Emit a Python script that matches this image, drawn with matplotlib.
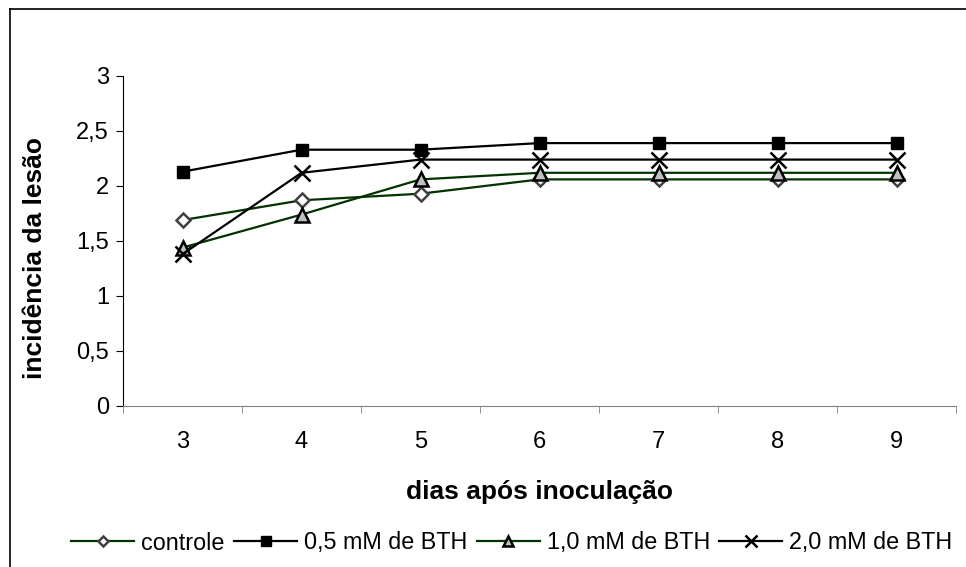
import matplotlib.pyplot as plt
from matplotlib.lines import Line2D
import numpy as np

plt.rcParams['font.family'] = ['Liberation Sans', 'DejaVu Sans']

dias = ["3", "4", "5", "6", "7", "8", "9"]
controle = [1.69, 1.87, 1.93, 2.06, 2.06, 2.06, 2.06]
bth_05 = [2.13, 2.33, 2.33, 2.39, 2.39, 2.39, 2.39]
bth_10 = [1.44, 1.74, 2.06, 2.12, 2.12, 2.12, 2.12]
bth_20 = [1.38, 2.12, 2.24, 2.24, 2.24, 2.24, 2.24]

verde = '#003300'

fig = plt.figure(figsize=(9.66, 5.67), dpi=100)
ax = fig.add_axes([123/966, 1-406/567, 833/966, 330/567])

x = np.arange(len(dias))
ax.plot(x, controle, color=verde, lw=1.6, marker='D', ms=7, mfc='white',
        mec='#404040', mew=1.8, label='controle')
ax.plot(x, bth_05, color='black', lw=1.6, marker='s', ms=9, mfc='black',
        mec='black', label='0,5 mM de BTH')
ax.plot(x, bth_10, color=verde, lw=1.6, marker='^', ms=10, mfc='#c0c0c0',
        mec='black', mew=1.8, label='1,0 mM de BTH')
ax.plot(x, bth_20, color='black', lw=1.6, marker='x', ms=11, mew=1.8,
        label='2,0 mM de BTH')

ax.set_xlim(-0.5, len(dias) - 0.5)
ax.set_ylim(0, 3)
ax.set_yticks([0, 0.5, 1, 1.5, 2, 2.5, 3])
ax.set_yticklabels(['0', '0,5', '1', '1,5', '2', '2,5', '3'])
ax.set_xticks(x)
ax.set_xticklabels(dias)
ax.set_xticks(np.arange(-0.5, len(dias)), minor=True)
ax.tick_params(axis='x', which='major', length=0, pad=18, labelsize=17)
ax.tick_params(axis='x', which='minor', length=5, direction='out', color='#808080')
ax.tick_params(axis='y', length=5, direction='out', labelsize=17, pad=5)

for s in ['top', 'right']:
    ax.spines[s].set_visible(False)
ax.spines['bottom'].set_color('#808080')
ax.spines['left'].set_color('black')

fig.text(540/966, 1-492/567, 'dias após inoculação', fontsize=19,
         fontweight='bold', ha='center', va='center')
fig.text(35/966, 1-258/567, 'incidência da lesão', rotation=90, fontsize=19,
         fontweight='bold', ha='center', va='center')

leg = fig.legend(loc='center', bbox_to_anchor=(512/966, 1-543/567), ncol=4,
                 frameon=False, fontsize=16.8, handlelength=2.7, handletextpad=0.3,
                 columnspacing=0.4, markerscale=0.75)

# moldura do gráfico
fig.add_artist(Line2D([10/966, 1], [1-8.5/567, 1-8.5/567], color='black', lw=1.2))
fig.add_artist(Line2D([10/966, 10/966], [0, 1-8.5/567], color='black', lw=1.2))

fig.savefig('out.png', dpi=100)
